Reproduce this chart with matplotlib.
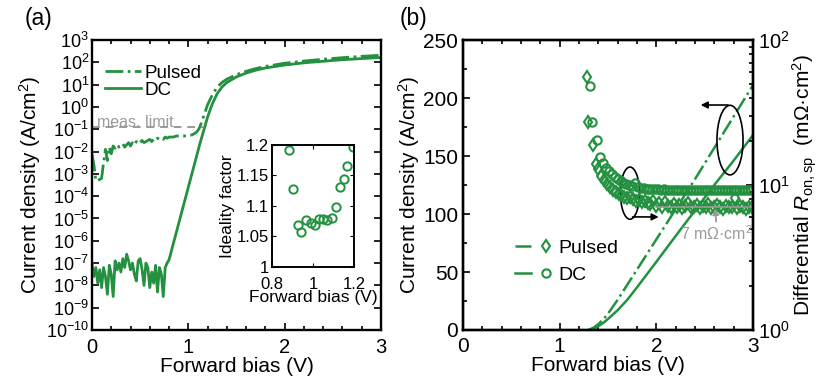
import matplotlib.pyplot as plt
import numpy as np
from matplotlib.patches import Ellipse
from matplotlib.ticker import MultipleLocator, NullLocator, LogLocator, NullFormatter
from matplotlib.legend_handler import HandlerTuple
from matplotlib.lines import Line2D

plt.rcParams['font.family'] = ['Liberation Sans', 'DejaVu Sans']
plt.rcParams['mathtext.fontset'] = 'custom'
plt.rcParams['mathtext.rm'] = 'Liberation Sans'
plt.rcParams['mathtext.it'] = 'Liberation Sans:italic'

green = '#23913f'
gray = '#9a9a9a'

# ---- panel (a): log J-V ----
dc_a_v = [0.00, 0.02, 0.04, 0.06, 0.08, 0.10, 0.12, 0.14, 0.16, 0.18,
          0.20, 0.22, 0.24, 0.26, 0.28, 0.30, 0.32, 0.34, 0.36, 0.38,
          0.40, 0.42, 0.44, 0.46, 0.48, 0.50, 0.52, 0.54, 0.56, 0.58,
          0.60, 0.62, 0.64, 0.66, 0.68, 0.70, 0.72, 0.74, 0.76, 0.78,
          0.80, 0.84, 0.88, 0.92, 0.96, 1.00, 1.04, 1.08, 1.12, 1.16,
          1.20, 1.25, 1.30, 1.35, 1.40, 1.50, 1.60, 1.70, 1.80, 2.00,
          2.20, 2.40, 2.60, 2.80, 3.00]
dc_a_log10j = [-7.0, -7.6, -7.2, -7.9, -7.3, -8.1, -7.2, -7.6, -8.4, -7.1,
               -7.5, -8.5, -6.9, -7.3, -7.0, -7.4, -6.8, -7.2, -6.6, -6.9,
               -7.3, -7.0, -7.5, -7.8, -6.9, -6.8, -7.3, -8.0, -7.0, -7.2,
               -8.1, -7.4, -7.9, -7.1, -8.3, -7.2, -7.5, -8.5, -7.2, -7.0,
               -6.85, -6.2, -5.55, -4.9, -4.25, -3.6, -2.95, -2.3, -1.65, -1.05,
               -0.45, 0.15, 0.6, 0.9, 1.1, 1.35, 1.52, 1.65, 1.75, 1.88,
               1.98, 2.05, 2.12, 2.17, 2.22]

pulsed_a_v = [0.00, 0.02, 0.04, 0.06, 0.08, 0.10, 0.12, 0.14, 0.16, 0.18,
              0.20, 0.22, 0.24, 0.26, 0.28, 0.30, 0.32, 0.34, 0.36, 0.38,
              0.40, 0.42, 0.44, 0.46, 0.48, 0.50, 0.52, 0.54, 0.56, 0.58,
              0.60, 0.62, 0.64, 0.66, 0.68, 0.70, 0.72, 0.74, 0.76, 0.78,
              0.80, 0.84, 0.88, 0.92, 0.96, 1.00, 1.04, 1.08, 1.10, 1.12,
              1.16, 1.20, 1.25, 1.30, 1.35, 1.40, 1.50, 1.60, 1.70, 1.80,
              2.00, 2.20, 2.40, 2.60, 2.80, 3.00]
pulsed_a_log10j = [-2.1, -2.6, -3.3, -3.3, -3.25, -3.2, -2.5, -1.9, -2.4, -1.8,
                   -2.1, -1.75, -1.85, -1.7, -1.8, -1.75, -1.65, -1.8, -1.7, -1.6,
                   -1.75, -1.6, -1.7, -1.55, -1.65, -1.6, -1.5, -1.6, -1.55, -1.5,
                   -1.45, -1.55, -1.45, -1.5, -1.4, -1.45, -1.4, -1.45, -1.35, -1.4,
                   -1.35, -1.35, -1.3, -1.3, -1.3, -1.28, -1.25, -1.15, -1.05, -0.9,
                   -0.4, 0.1, 0.55, 0.9, 1.1, 1.25, 1.45, 1.6, 1.72, 1.82,
                   1.96, 2.06, 2.14, 2.21, 2.27, 2.32]

meas_limit_v = [0.0, 1.15]
meas_limit_j = [0.125, 0.125]

# inset: ideality factor
ideal_v = [0.884, 0.905, 0.926, 0.943, 0.965, 0.990, 1.011, 1.030,
           1.051, 1.067, 1.093, 1.113, 1.134, 1.151, 1.168, 1.194]
ideal_n = [1.191, 1.128, 1.068, 1.057, 1.077, 1.072, 1.068, 1.078,
           1.078, 1.077, 1.080, 1.099, 1.131, 1.144, 1.165, 1.196]

# ---- panel (b): linear J-V and differential resistance ----
pulsed_b_v = [1.30, 1.35, 1.40, 1.45, 1.50, 1.60, 1.70, 1.80, 1.90, 2.00,
              2.20, 2.40, 2.60, 2.80, 3.00]
pulsed_b_j = [0, 2, 5, 9, 14, 26, 39, 52, 65, 78, 104, 130, 157, 184, 211]
dc_b_v = [1.30, 1.35, 1.40, 1.45, 1.50, 1.60, 1.70, 1.80, 1.90, 2.00,
          2.20, 2.40, 2.60, 2.80, 3.00]
dc_b_j = [0, 1.2, 3.3, 6, 9.5, 17, 26, 36.7, 47.7, 58.7, 81, 103, 125, 146, 168]

dc_r_v = [1.31, 1.34, 1.39, 1.42, 1.45, 1.48, 1.51, 1.54, 1.57, 1.60,
          1.63, 1.66, 1.69, 1.72, 1.75, 1.78, 1.81, 1.84, 1.87, 1.90,
          1.93, 1.96, 1.99, 2.02, 2.05, 2.08, 2.11, 2.14, 2.17, 2.20,
          2.23, 2.26, 2.29, 2.32, 2.35, 2.38, 2.41, 2.44, 2.47, 2.50,
          2.53, 2.56, 2.59, 2.62, 2.65, 2.68, 2.71, 2.74, 2.77, 2.80,
          2.83, 2.86, 2.89, 2.92, 2.95, 2.98]
dc_r = [48, 27, 20.4, 15.5, 14.2, 13.2, 12.5, 11.9, 11.4, 11.0,
        10.7, 10.4, 10.2, 10.0, 9.9, 10.3, 9.7, 9.6, 9.5, 9.45,
        9.4, 9.4, 9.35, 9.35, 9.3, 9.35, 9.3, 9.3, 9.3, 9.25,
        9.3, 9.3, 9.25, 9.3, 9.3, 9.3, 9.25, 9.3, 9.3, 9.3,
        9.25, 9.3, 9.3, 9.3, 9.3, 9.25, 9.3, 9.3, 9.3, 9.3,
        9.3, 9.3, 9.25, 9.3, 9.3, 9.3]

pulsed_r_v = [1.28, 1.29, 1.35, 1.375, 1.40, 1.43, 1.46, 1.49, 1.52, 1.55,
              1.58, 1.61, 1.64, 1.67, 1.70, 1.73, 1.76, 1.79, 1.82, 1.85,
              1.88, 1.91, 1.94, 1.97, 2.00, 2.03, 2.06, 2.09, 2.12, 2.15,
              2.18, 2.21, 2.24, 2.27, 2.30, 2.33, 2.36, 2.39, 2.42, 2.45,
              2.48, 2.51, 2.54, 2.57, 2.60, 2.63, 2.66, 2.69, 2.72, 2.75,
              2.78, 2.81, 2.84, 2.87, 2.90, 2.93, 2.96, 2.99]
pulsed_r = [56, 27, 19, 14, 12.8, 11.6, 10.8, 10.2, 9.7, 9.3,
            9.0, 8.7, 8.5, 8.3, 8.1, 8.3, 8.0, 7.8, 7.9, 7.6,
            7.8, 7.5, 7.4, 7.7, 7.2, 7.5, 7.1, 7.6, 7.2, 7.0,
            7.4, 7.1, 7.3, 6.9, 7.2, 7.5, 7.0, 7.1, 7.3, 6.9,
            7.2, 7.0, 7.4, 6.9, 7.1, 7.3, 7.0, 6.8, 7.2, 7.0,
            7.1, 8.1, 6.9, 7.2, 7.0, 6.8, 7.1, 7.0]

ref_r_v = [2.0, 3.0]
ref_r = [7.0, 7.0]


def style_axes(ax, size=14):
    for s in ax.spines.values():
        s.set_linewidth(1.7)
    ax.tick_params(which='both', direction='in', top=True, right=True,
                   labelsize=size, width=1.2)
    ax.tick_params(which='major', length=5)
    ax.tick_params(which='minor', length=3)


fig = plt.figure(figsize=(8.19, 3.78), dpi=100)

# ---------------- (a) ----------------
ax1 = fig.add_axes([0.1123, 0.127, 0.3529, 0.767])
ax1.set_yscale('log')
ax1.plot(pulsed_a_v, 10.0 ** np.array(pulsed_a_log10j), color=green,
         ls='-.', lw=2.0, label='Pulsed')
ax1.plot(dc_a_v, 10.0 ** np.array(dc_a_log10j), color=green,
         ls='-', lw=2.0, label='DC')
ax1.plot(meas_limit_v, meas_limit_j, color=gray, ls=(0, (4, 3)), lw=1.4)
ax1.text(0.05, 0.125, 'meas. limit', color=gray, fontsize=11.5,
         va='baseline', ha='left')
ax1.set_xlim(0, 3)
ax1.set_ylim(1e-10, 1e3)
exps = list(range(-10, 4))
ax1.set_yticks([10.0 ** k for k in exps])
ax1.set_yticklabels(['$10^{%d}$' % k for k in exps])
ax1.yaxis.set_minor_locator(NullLocator())
ax1.set_xticks([0, 1, 2, 3])
ax1.xaxis.set_minor_locator(MultipleLocator(0.2))
style_axes(ax1, 14.5)
ax1.tick_params(axis='y', labelsize=13, pad=2)
ax1.tick_params(axis='x', pad=6)
ax1.set_xlabel('Forward bias (V)', fontsize=15, labelpad=0)
ax1.set_ylabel('Current density (A/cm$^2$)', fontsize=15, labelpad=2)
ax1.legend(loc='upper left', bbox_to_anchor=(0.0, 0.96), frameon=False,
           fontsize=13.5, handlelength=1.9, handletextpad=0.2,
           labelspacing=0.0, borderaxespad=0.3)
fig.text(0.03, 0.952, '(a)', fontsize=16.5, va='center')

# inset
axi = fig.add_axes([0.332, 0.2937, 0.1001, 0.3228])
axi.plot(ideal_v, ideal_n, 'o', mfc='none', mec=green, mew=1.4, ms=6)
axi.set_xlim(0.8, 1.2)
axi.set_ylim(1.0, 1.2)
axi.set_xticks([0.8, 1.0, 1.2])
axi.set_xticklabels(['0.8', '1', '1.2'])
axi.set_yticks([1.0, 1.05, 1.1, 1.15, 1.2])
axi.set_yticklabels(['1', '1.05', '1.1', '1.15', '1.2'])
for s in axi.spines.values():
    s.set_linewidth(1.4)
axi.tick_params(direction='in', top=True, right=True, labelsize=12,
                length=3, pad=2)
axi.tick_params(axis='x', pad=7)
axi.set_xlabel('Forward bias (V)', fontsize=12.5, labelpad=-1)
axi.set_ylabel('Ideality factor', fontsize=12.5, labelpad=1)

# ---------------- (b) ----------------
ax2 = fig.add_axes([0.5653, 0.127, 0.354, 0.767])
ax2.plot(pulsed_b_v, pulsed_b_j, color=green, ls='-.', lw=1.8)
ax2.plot(dc_b_v, dc_b_j, color=green, ls='-', lw=1.8)
ax2.set_xlim(0, 3)
ax2.set_ylim(0, 250)
ax2.set_xticks([0, 1, 2, 3])
ax2.xaxis.set_minor_locator(MultipleLocator(0.2))
ax2.set_yticks([0, 50, 100, 150, 200, 250])
ax2.yaxis.set_minor_locator(MultipleLocator(25))
style_axes(ax2, 15)
ax2.tick_params(right=False, which='both')
ax2.tick_params(axis='x', pad=5)
ax2.set_xlabel('Forward bias (V)', fontsize=15, labelpad=0)
ax2.set_ylabel('Current density (A/cm$^2$)', fontsize=15, labelpad=1)

ax3 = ax2.twinx()
ax3.set_yscale('log')
ax3.plot(dc_r_v, dc_r, 'o', mfc='none', mec=green, mew=1.5, ms=6)
ax3.plot(pulsed_r_v, pulsed_r, 'd', mfc='none', mec=green, mew=1.5, ms=6.5)
ax3.plot(ref_r_v, ref_r, color=gray, lw=1.2)
ax3.set_ylim(1, 100)
ax3.set_xlim(0, 3)
ax3.yaxis.set_minor_locator(LogLocator(base=10, subs=np.arange(2, 10)))
ax3.yaxis.set_minor_formatter(NullFormatter())
for s in ax3.spines.values():
    s.set_linewidth(1.7)
ax3.tick_params(which='both', direction='in', labelsize=14.5, width=1.2)
ax3.tick_params(which='major', length=5)
ax3.tick_params(which='minor', length=3)
ax3.set_ylabel('Differential $R_{\\mathrm{on,sp}}$  (m\u03a9\u00b7cm$^2$)',
               fontsize=15, labelpad=1)

# ellipses and arrows marking the axes
ax3.add_patch(Ellipse((0.576, 0.472), 0.066, 0.18, transform=ax3.transAxes,
                      fill=False, ec='black', lw=1.2))
ax3.add_patch(Ellipse((0.921, 0.655), 0.09, 0.24, transform=ax3.transAxes,
                      fill=False, ec='black', lw=1.2))
ax3.annotate('', xy=(0.675, 0.39), xytext=(0.585, 0.39),
             xycoords='axes fraction', textcoords='axes fraction',
             arrowprops=dict(arrowstyle='-|>', color='black', lw=1.2,
                             mutation_scale=10, shrinkA=0, shrinkB=0))
ax3.annotate('', xy=(0.82, 0.776), xytext=(0.914, 0.776),
             xycoords='axes fraction', textcoords='axes fraction',
             arrowprops=dict(arrowstyle='-|>', color='black', lw=1.2,
                             mutation_scale=10, shrinkA=0, shrinkB=0))
ax3.annotate('7 m\u03a9\u00b7cm$^2$', xy=(0.87, 0.42), xytext=(0.75, 0.30),
             xycoords='axes fraction', textcoords='axes fraction',
             color=gray, fontsize=11.5, ha='left', va='bottom',
             arrowprops=dict(arrowstyle='-|>', color=gray, lw=1.3,
                             mutation_scale=9, shrinkA=0, shrinkB=0))

h_p = (Line2D([], [], color=green, ls='-.', lw=1.8),
       Line2D([], [], marker='d', mfc='none', mec=green, mew=1.5, ms=6.5, ls='none'))
h_d = (Line2D([], [], color=green, ls='-', lw=1.8),
       Line2D([], [], marker='o', mfc='none', mec=green, mew=1.5, ms=6, ls='none'))
ax2.legend([h_p, h_d], ['Pulsed', 'DC'], loc='lower left',
           bbox_to_anchor=(0.12, 0.1), frameon=False, fontsize=14,
           handlelength=2.0, handletextpad=0.2, labelspacing=0.45,
           handler_map={tuple: HandlerTuple(ndivide=None)})
fig.text(0.488, 0.952, '(b)', fontsize=16.5, va='center')

fig.savefig('out.png', dpi=100)
